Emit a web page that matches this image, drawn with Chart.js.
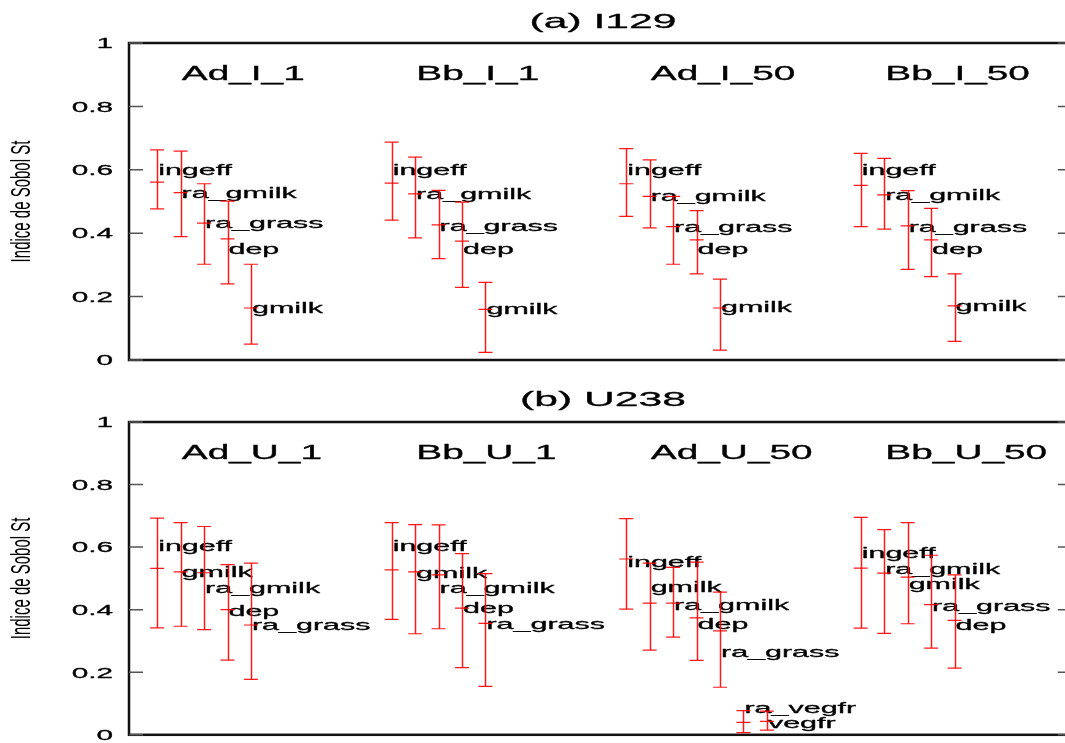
<!DOCTYPE html>
<html>
<head>
<meta charset="utf-8">
<script src="https://cdn.jsdelivr.net/npm/chart.js@4.4.0/dist/chart.umd.min.js"></script>
<style>
  html, body { margin: 0; padding: 0; background: #fff; overflow: hidden; }
  #wrap { position: relative; width: 1065px; height: 743px; overflow: hidden; }
  canvas { position: absolute; left: 0; }
</style>
</head>
<body>
<div id="wrap">
  <canvas id="panelA" width="1080" height="380" style="top:0px"></canvas>
  <canvas id="panelB" width="1080" height="363" style="top:380px"></canvas>
</div>
<script>
const yTicks = [0, 0.2, 0.4, 0.6, 0.8, 1];
const yTickLabels = ['0', '0.2', '0.4', '0.6', '0.8', '1'];
const yTitle = 'Indice de Sobol St';

// (a) I129
const titleA = '(a) I129';
const groupsA = ['Ad_I_1', 'Bb_I_1', 'Ad_I_50', 'Bb_I_50'];
const paramsA = [
  ['ingeff', 'ra_gmilk', 'ra_grass', 'dep', 'gmilk'],
  ['ingeff', 'ra_gmilk', 'ra_grass', 'dep', 'gmilk'],
  ['ingeff', 'ra_gmilk', 'ra_grass', 'dep', 'gmilk'],
  ['ingeff', 'ra_gmilk', 'ra_grass', 'dep', 'gmilk']
];
const meanA = [
  [0.561, 0.528, 0.432, 0.382, 0.164],
  [0.558, 0.524, 0.426, 0.375, 0.160],
  [0.556, 0.516, 0.421, 0.379, 0.164],
  [0.551, 0.521, 0.423, 0.379, 0.171]
];
const lowA = [
  [0.477, 0.389, 0.302, 0.240, 0.050],
  [0.441, 0.385, 0.320, 0.229, 0.024],
  [0.453, 0.417, 0.302, 0.272, 0.031],
  [0.421, 0.413, 0.286, 0.263, 0.059]
];
const highA = [
  [0.663, 0.659, 0.556, 0.501, 0.302],
  [0.687, 0.640, 0.535, 0.498, 0.245],
  [0.667, 0.631, 0.516, 0.471, 0.255],
  [0.652, 0.636, 0.534, 0.478, 0.272]
];
const labelYA = [
  [0.600, 0.526, 0.432, 0.350, 0.163],
  [0.600, 0.524, 0.424, 0.350, 0.160],
  [0.600, 0.518, 0.419, 0.350, 0.166],
  [0.600, 0.521, 0.421, 0.350, 0.171]
];

// (b) U238
const titleB = '(b) U238';
const groupsB = ['Ad_U_1', 'Bb_U_1', 'Ad_U_50', 'Bb_U_50'];
const paramsB = [
  ['ingeff', 'gmilk', 'ra_gmilk', 'dep', 'ra_grass'],
  ['ingeff', 'gmilk', 'ra_gmilk', 'dep', 'ra_grass'],
  ['ingeff', 'gmilk', 'ra_gmilk', 'dep', 'ra_grass', 'ra_vegfr', 'vegfr'],
  ['ingeff', 'ra_gmilk', 'gmilk', 'ra_grass', 'dep']
];
const meanB = [
  [0.532, 0.521, 0.518, 0.400, 0.351],
  [0.527, 0.521, 0.511, 0.405, 0.356],
  [0.562, 0.421, 0.421, 0.374, 0.332, 0.040, 0.043],
  [0.533, 0.517, 0.504, 0.416, 0.366]
];
const lowB = [
  [0.342, 0.347, 0.336, 0.239, 0.177],
  [0.369, 0.323, 0.339, 0.215, 0.155],
  [0.402, 0.271, 0.312, 0.238, 0.152, 0.007, 0.015],
  [0.341, 0.324, 0.355, 0.277, 0.213]
];
const highB = [
  [0.693, 0.678, 0.666, 0.544, 0.549],
  [0.678, 0.672, 0.671, 0.579, 0.515],
  [0.691, 0.549, 0.535, 0.552, 0.456, 0.077, 0.076],
  [0.695, 0.656, 0.678, 0.574, 0.511]
];
const labelYB = [
  [0.602, 0.521, 0.470, 0.397, 0.350],
  [0.602, 0.518, 0.470, 0.404, 0.355],
  [0.553, 0.474, 0.416, 0.354, 0.264, 0.085, 0.037],
  [0.580, 0.531, 0.482, 0.413, 0.350]
];

const FONT = '"Liberation Sans", Arial, Helvetica, sans-serif';
const RED = 'rgba(255, 0, 0, 0.9)';

// the original picture is stretched sideways, so all text is widened (and a bit heavier)
function wideText(ctx, text, x, y, size, sx, align, baseline) {
  ctx.save();
  ctx.font = size + 'px ' + FONT;
  ctx.fillStyle = '#000';
  ctx.strokeStyle = '#000';
  ctx.lineWidth = 0.3;
  ctx.lineJoin = 'round';
  ctx.textAlign = align;
  ctx.textBaseline = baseline;
  ctx.translate(x, y);
  ctx.scale(sx, 1);
  ctx.fillText(text, 0, 0);
  ctx.strokeText(text, 0, 0);
  ctx.restore();
}

function xPos(g, i) {
  return 10 * g + i + 1;
}

function makePanel(canvasId, title, titleY, groups, params, mean, low, high, labelY, pad) {
  const pts = [], lows = [], highs = [];
  groups.forEach((g, gi) => {
    params[gi].forEach((p, i) => {
      pts.push({ x: xPos(gi, i), y: mean[gi][i] });
      lows.push({ x: xPos(gi, i), y: low[gi][i] });
      highs.push({ x: xPos(gi, i), y: high[gi][i] });
    });
  });

  const markStyle = {
    pointStyle: 'line',
    pointRadius: 7,
    pointBorderColor: RED,
    pointBorderWidth: 1.2,
    showLine: false
  };

  const decor = {
    id: 'decor',
    beforeDatasetsDraw(chart) {
      const ctx = chart.ctx;
      const area = chart.chartArea;
      const xs = chart.scales.x, ys = chart.scales.y;

      // frame
      ctx.save();
      ctx.strokeStyle = '#111';
      ctx.lineWidth = 2.5;
      ctx.strokeRect(area.left, area.top, area.right - area.left, area.bottom - area.top);

      // inward ticks on both sides + labels
      ctx.lineWidth = 1.5;
      ctx.strokeStyle = '#555';
      yTicks.forEach((v, k) => {
        const py = ys.getPixelForValue(v);
        ctx.beginPath();
        ctx.moveTo(area.left, py); ctx.lineTo(area.left + 14, py);
        ctx.moveTo(area.right, py); ctx.lineTo(area.right - 14, py);
        ctx.stroke();
        wideText(ctx, yTickLabels[k], area.left - 16, py + 1, 15.5, 1.92, 'right', 'middle');
      });
      ctx.restore();

      // axis title, rotated
      ctx.save();
      ctx.font = '15px ' + FONT;
      ctx.fillStyle = '#000';
      ctx.textAlign = 'center';
      ctx.textBaseline = 'middle';
      ctx.translate(22, (area.top + area.bottom) / 2);
      ctx.scale(1.9, 1);
      ctx.rotate(-Math.PI / 2);
      ctx.fillText(yTitle, 0, 0);
      ctx.restore();

      // panel title
      wideText(ctx, title, 603, titleY, 21, 2.03, 'center', 'alphabetic');

      // group names
      groups.forEach((g, gi) => {
        wideText(ctx, g, xs.getPixelForValue(10 * gi + 2.05), ys.getPixelForValue(0.882), 19.5, 1.99, 'left', 'alphabetic');
      });

      // parameter labels
      groups.forEach((g, gi) => {
        params[gi].forEach((p, i) => {
          wideText(ctx, p, xs.getPixelForValue(xPos(gi, i)) + 1, ys.getPixelForValue(labelY[gi][i]) + 1, 14.5, 2.1, 'left', 'middle');
        });
      });

      // error bar stems
      ctx.save();
      ctx.strokeStyle = RED;
      ctx.lineWidth = 1.5;
      pts.forEach((pt, k) => {
        const px = Math.round(xs.getPixelForValue(pt.x)) + 0.5;
        ctx.beginPath();
        ctx.moveTo(px, ys.getPixelForValue(lows[k].y));
        ctx.lineTo(px, ys.getPixelForValue(highs[k].y));
        ctx.stroke();
      });
      ctx.restore();
    }
  };

  return new Chart(document.getElementById(canvasId), {
    type: 'scatter',
    data: {
      datasets: [
        Object.assign({ label: 'mean', data: pts }, markStyle),
        Object.assign({ label: 'low', data: lows }, markStyle),
        Object.assign({ label: 'high', data: highs }, markStyle)
      ]
    },
    options: {
      responsive: false,
      animation: false,
      devicePixelRatio: 1,
      layout: { padding: pad },
      scales: {
        x: { type: 'linear', min: -0.2, max: 40, display: false },
        y: { min: 0, max: 1, display: false }
      },
      plugins: {
        legend: { display: false },
        tooltip: { enabled: false }
      }
    },
    plugins: [decor]
  });
}

makePanel('panelA', titleA, 28, groupsA, paramsA, meanA, lowA, highA, labelYA,
  { left: 129, right: 8, top: 43, bottom: 20 });
makePanel('panelB', titleB, 26, groupsB, paramsB, meanB, lowB, highB, labelYB,
  { left: 129, right: 8, top: 42, bottom: 6 });
</script>
</body>
</html>
